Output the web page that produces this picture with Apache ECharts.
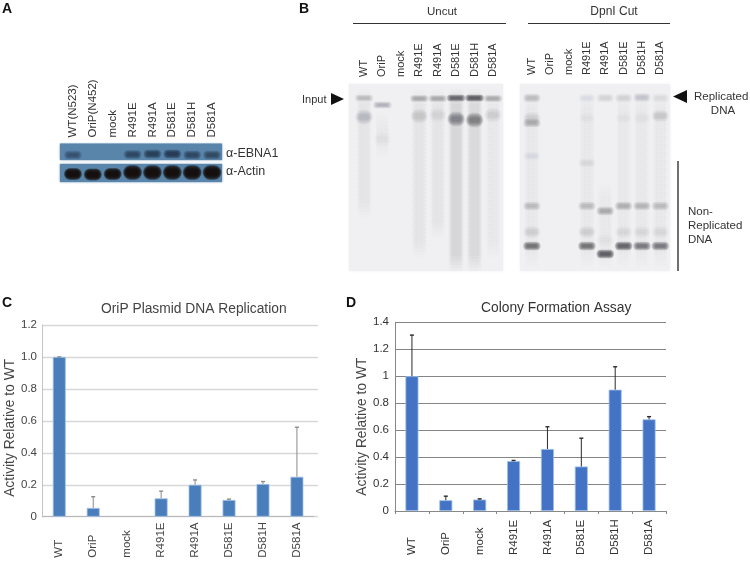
<!DOCTYPE html>
<html><head><meta charset="utf-8">
<style>html,body{margin:0;padding:0;background:#fff}#c{width:750px;height:561px}</style>
<script src="https://cdn.jsdelivr.net/npm/echarts@6/dist/echarts.min.js"></script>
</head><body><div id="c"></div>
<script>
// ---------- data ----------
const blotLanes = ['WT(N523)','OriP(N452)','mock','R491E','R491A','D581E','D581H','D581A'];
const gelLanes = ['WT','OriP','mock','R491E','R491A','D581E','D581H','D581A'];
// blot signal: [lane, position, intensity]
const ebna1Bands = [[0,11.5,.55],[3,11,.7],[4,10.5,.8],[5,10.5,.85],[6,11.5,.7],[7,11.5,.68]];
const actinSmall = [[0,10,1],[1,10.5,1],[2,10,1]];
const actinLarge = [[3,8.5,1],[4,8.5,1],[5,8.5,1],[6,8.5,1],[7,8.5,1]];
// gel: [lane, migration, intensity]
const uncutBands = [[0,15,.25],[1,22,.3],[3,15.5,.36],[4,15.5,.36],[5,15,.72],[6,15,.78],[7,15.5,.36]];
const uncutDiffuse = [[0,34,.24],[3,33,.2],[4,32,.1],[5,36,.55],[6,37,.62],[7,32,.12],[1,56,.08]];
const uncutSmears = [[0,6,135,.08],[1,30,75,.04],[3,6,175,.06],[4,6,155,.06],[5,6,188,.16],[6,6,188,.14],[7,6,175,.05]];
const cutBands = [[0,15,.26],[3,15,.08],[4,15,.12],[5,15,.12],[6,14.5,.2],[7,15,.11],[0,40,.32],[0,73,.08],[3,80,.1],
  [0,123,.25],[3,123,.25],[4,128,.34],[5,123,.32],[6,123,.28],[7,123,.24],
  [0,163,.66],[3,163,.66],[4,171,.78],[5,163,.74],[6,163,.62],[7,163,.62]];
const cutDiffuse = [[0,35,.12],[7,33,.2],[6,35,.06],[3,35,.05],[5,35,.05],[0,149,.12],[3,149,.12],[5,149,.11],[6,149,.09],[7,149,.09],[4,157,.06]];
const cutSmears = [[0,10,185,.05],[3,10,185,.04],[4,100,185,.04],[5,10,185,.04],[6,10,185,.04],[7,10,185,.04]];
const categories = ['WT','OriP','mock','R491E','R491A','D581E','D581H','D581A'];
const replication = [1.0,0.055,0,0.115,0.2,0.105,0.205,0.25];
const replicationHigh = [1.0,0.125,0,0.16,0.23,0.11,0.22,0.56];
const colony = [1,0.08,0.085,0.37,0.46,0.33,0.9,0.68];
const colonyHigh = [1.305,0.11,0.09,0.375,0.625,0.54,1.07,0.70];

const FONT = '"Liberation Sans", Arial, sans-serif';
const chart = echarts.init(document.getElementById('c'));

// soft band: stacked translucent rounded rectangles that build up toward the centre
function bandSeries(g, data, hw, hh, rgb){
  const n = 9;
  return {type:'custom', xAxisIndex:g, yAxisIndex:g, data, silent:true, z:4,
    encode:{x:0,y:1},
    renderItem(p, api){
      const c = api.coord([api.value(0), api.value(1)]);
      const a = 1 - Math.pow(1 - Math.min(api.value(2),.985), 1/n);
      const children = [];
      for(let k=0;k<n;k++){
        const f = 1 - k/n;
        const w = hw*(0.5+0.5*f), h = hh*(0.2+0.8*f);
        children.push({type:'rect', shape:{x:c[0]-w,y:c[1]-h,width:2*w,height:2*h,r:h},
          style:{fill:`rgba(${rgb},${a})`}});
      }
      return {type:'group', children};
    }};
}
function smearSeries(g, data){
  const n = 6;
  return {type:'custom', xAxisIndex:g, yAxisIndex:g, data, silent:true, z:3,
    encode:{x:0,y:[1,2]},
    renderItem(p, api){
      const a = api.coord([api.value(0), api.value(1)]);
      const b = api.coord([api.value(0), api.value(2)]);
      const al = api.value(3)/n;
      const children = [];
      for(let k=0;k<n;k++){
        const col = `rgba(75,75,80,${al})`;
        children.push({type:'rect', shape:{x:a[0]-8,y:a[1]+k*3,width:16,height:Math.max(b[1]-a[1]-k*6,1)},
          style:{fill:new echarts.graphic.LinearGradient(0,0,1,0,[
            {offset:0,color:'rgba(75,75,80,0)'},{offset:.25,color:col},{offset:.75,color:col},{offset:1,color:'rgba(75,75,80,0)'}])}});
      }
      return {type:'group', children};
    }};
}
function errorSeries(g, values, highs, color){
  return {type:'custom', xAxisIndex:g, yAxisIndex:g, silent:true, z:5,
    data: values.map((v,i)=>[i,v,highs[i]]), encode:{x:0,y:[1,2]},
    renderItem(p, api){
      if(api.value(2) <= 0) return null;
      const a = api.coord([api.value(0), api.value(1)]);
      const b = api.coord([api.value(0), api.value(2)]);
      const style = {stroke:color, lineWidth:1};
      return {type:'group', children:[
        {type:'line', shape:{x1:a[0],y1:a[1],x2:b[0],y2:b[1]}, style},
        {type:'line', shape:{x1:b[0]-2,y1:b[1],x2:b[0]+2,y2:b[1]}, style:{stroke:color,lineWidth:1.4}}
      ]};
    }};
}
const hiddenY = (max)=>({type:'value', inverse:true, min:0, max, show:false, splitLine:{show:false}});
const laneX = (labels, grid, show, margin, size)=>({type:'category', gridIndex:grid, data:labels, position:'top',
  axisLine:{show:false}, axisTick:{show:false}, splitLine:{show:false},
  axisLabel:{show, interval:0, rotate:90, align:'left', verticalAlign:'middle', margin, fontSize:size, fontFamily:FONT, color:'#333'}});

const txt = (text,x,y,o={})=>({type:'text', x, y, style:Object.assign({text, fill:'#333', font:`${o.size||11.5}px ${FONT}`, textAlign:o.align||'left', textVerticalAlign:'middle'}, o.style||{})});
const head = (text,x,y)=>txt(text,x,y,{style:{font:`bold 14px ${FONT}`, fill:'#111'}});
const gelBg = (x,y,width,height)=>({type:'rect', shape:{x,y,width,height}, style:{fill:'#f0f0f2', shadowBlur:3, shadowColor:'#f0f0f2'}});

const option = {
  animation:false, backgroundColor:'#fff',
  textStyle:{fontFamily:FONT},
  title:[
    {text:'OriP Plasmid DNA Replication', left:101, top:302, padding:0, textStyle:{fontSize:13.8, fontWeight:'normal', color:'#444', fontFamily:FONT}},
    {text:'Colony Formation Assay', left:481, top:301, padding:0, textStyle:{fontSize:13.8, fontWeight:'normal', color:'#333', fontFamily:FONT}}
  ],
  graphic:[
    head('A',2,9), head('B',299,9), head('C',2,303), head('D',346,303),
    {type:'rect', shape:{x:60,y:143.5,width:162,height:16.5}, style:{fill:'#5985ab', shadowBlur:2, shadowColor:'#5985ab'}},
    {type:'rect', shape:{x:60,y:164,width:162,height:18}, style:{fill:'#5985ab', shadowBlur:2, shadowColor:'#5985ab'}},
    txt('α-EBNA1',226,154,{size:12.5}), txt('α-Actin',226,172,{size:12.5}),
    gelBg(349,84,154,187), gelBg(520,84,150,187),
    txt('Uncut',442,12,{align:'center'}), txt('DpnI Cut',614,12,{align:'center',size:12}),
    {type:'line', shape:{x1:353,y1:23.5,x2:506,y2:23.5}, style:{stroke:'#333',lineWidth:1.2}},
    {type:'line', shape:{x1:528,y1:23.5,x2:670,y2:23.5}, style:{stroke:'#333',lineWidth:1.2}},
    txt('Input',302,100,{size:11}),
    {type:'polygon', shape:{points:[[331,93],[344,99],[331,105]]}, style:{fill:'#111'}},
    {type:'polygon', shape:{points:[[687,90],[673,96.5],[687,103]]}, style:{fill:'#111'}},
    txt('Replicated',694,97), txt('DNA',723,111,{align:'center'}),
    {type:'line', shape:{x1:678,y1:161,x2:678,y2:271}, style:{stroke:'#222',lineWidth:1.3}},
    txt('Non-',688,212), txt('Replicated',688,226), txt('DNA',688,240)
  ],
  grid:[
    {left:63, top:143.5, width:159, height:16.5},
    {left:63, top:164, width:159, height:18},
    {left:354.8, top:83, width:147.4, height:188},
    {left:522.7, top:83, width:146.8, height:188},
    {left:42, top:325, width:276, height:191.7},
    {left:42.3, top:325, width:271.6, height:191.7},
    {left:395, top:322.3, width:271, height:188.7}
  ],
  xAxis:[
    laneX(blotLanes,0,true,6,11.5),
    laneX(blotLanes,1,false,0,10),
    laneX(gelLanes,2,true,6,11),
    laneX(gelLanes,3,true,8,11),
    {type:'category', gridIndex:4, data:categories, show:false},
    {type:'category', gridIndex:5, data:categories,
      axisLine:{lineStyle:{color:'#b8b8b8',width:1}}, axisTick:{show:false},
      axisLabel:{interval:0, rotate:90, align:'left', verticalAlign:'middle', margin:41, fontSize:11.5, color:'#444', fontFamily:FONT}},
    {type:'category', gridIndex:6, data:categories,
      axisLine:{lineStyle:{color:'#888',width:1}}, axisTick:{show:true, length:3, lineStyle:{color:'#888'}},
      axisLabel:{interval:0, rotate:90, align:'left', verticalAlign:'middle', margin:44, fontSize:11.5, color:'#333', fontFamily:FONT}}
  ],
  yAxis:[
    Object.assign(hiddenY(16.5),{gridIndex:0}),
    Object.assign(hiddenY(18),{gridIndex:1}),
    Object.assign(hiddenY(188),{gridIndex:2}),
    Object.assign(hiddenY(188),{gridIndex:3}),
    {type:'value', gridIndex:4, min:0, max:1.2, interval:0.2,
      name:'Activity Relative to WT', nameLocation:'middle', nameGap:25,
      nameTextStyle:{fontSize:13.8, color:'#444', fontFamily:FONT, padding:[0,14,0,0]},
      axisLine:{show:true, lineStyle:{color:'#c4c4c4'}}, axisTick:{show:false},
      splitLine:{lineStyle:{color:'#d8d8d8', width:1.4}},
      axisLabel:{margin:5, fontSize:11.5, color:'#444', fontFamily:FONT,
        formatter:v=>v===0?'0':v.toFixed(1)}},
    {type:'value', gridIndex:5, min:0, max:1.2, interval:0.2, show:false, splitLine:{show:false}},
    {type:'value', gridIndex:6, min:0, max:1.4, interval:0.2,
      name:'Activity Relative to WT', nameLocation:'middle', nameGap:26,
      nameTextStyle:{fontSize:13.8, color:'#444', fontFamily:FONT, padding:[0,20,0,0]},
      axisLine:{show:true, lineStyle:{color:'#888'}}, axisTick:{show:false},
      splitLine:{lineStyle:{color:'#858585', width:1}},
      axisLabel:{margin:6, fontSize:11.5, color:'#333', fontFamily:FONT}}
  ],
  series:[
    bandSeries(0, ebna1Bands, 9, 4.5, '30,50,72'),
    bandSeries(1, actinSmall, 9, 6, '22,16,14'),
    bandSeries(1, actinLarge, 9.5, 7.5, '22,16,14'),
    smearSeries(2, uncutSmears),
    bandSeries(2, uncutDiffuse, 9, 7.5, '75,75,80'),
    bandSeries(2, uncutBands, 9.5, 3.5, '60,60,65'),
    smearSeries(3, cutSmears),
    bandSeries(3, cutDiffuse, 9, 6, '75,75,80'),
    bandSeries(3, cutBands, 9, 4.5, '60,60,65'),
    {type:'bar', xAxisIndex:5, yAxisIndex:5, barWidth:13,
      data:replication.map(v=>({value:v, itemStyle:{borderWidth:v?0.8:0}})),
      itemStyle:{color:'#4a7ebb', borderColor:'#a3c4e8'}, z:3},
    errorSeries(5, replication, replicationHigh, '#8a8a8a'),
    {type:'bar', xAxisIndex:6, yAxisIndex:6, data:colony, barWidth:13,
      itemStyle:{color:'#4472c4', borderColor:'#9cc0ea', borderWidth:0.8}, z:3},
    errorSeries(6, colony, colonyHigh, '#2a2a2a'),
    {type:'bar', xAxisIndex:4, yAxisIndex:4, data:[], silent:true}
  ]
};
chart.setOption(option);
</script></body></html>
